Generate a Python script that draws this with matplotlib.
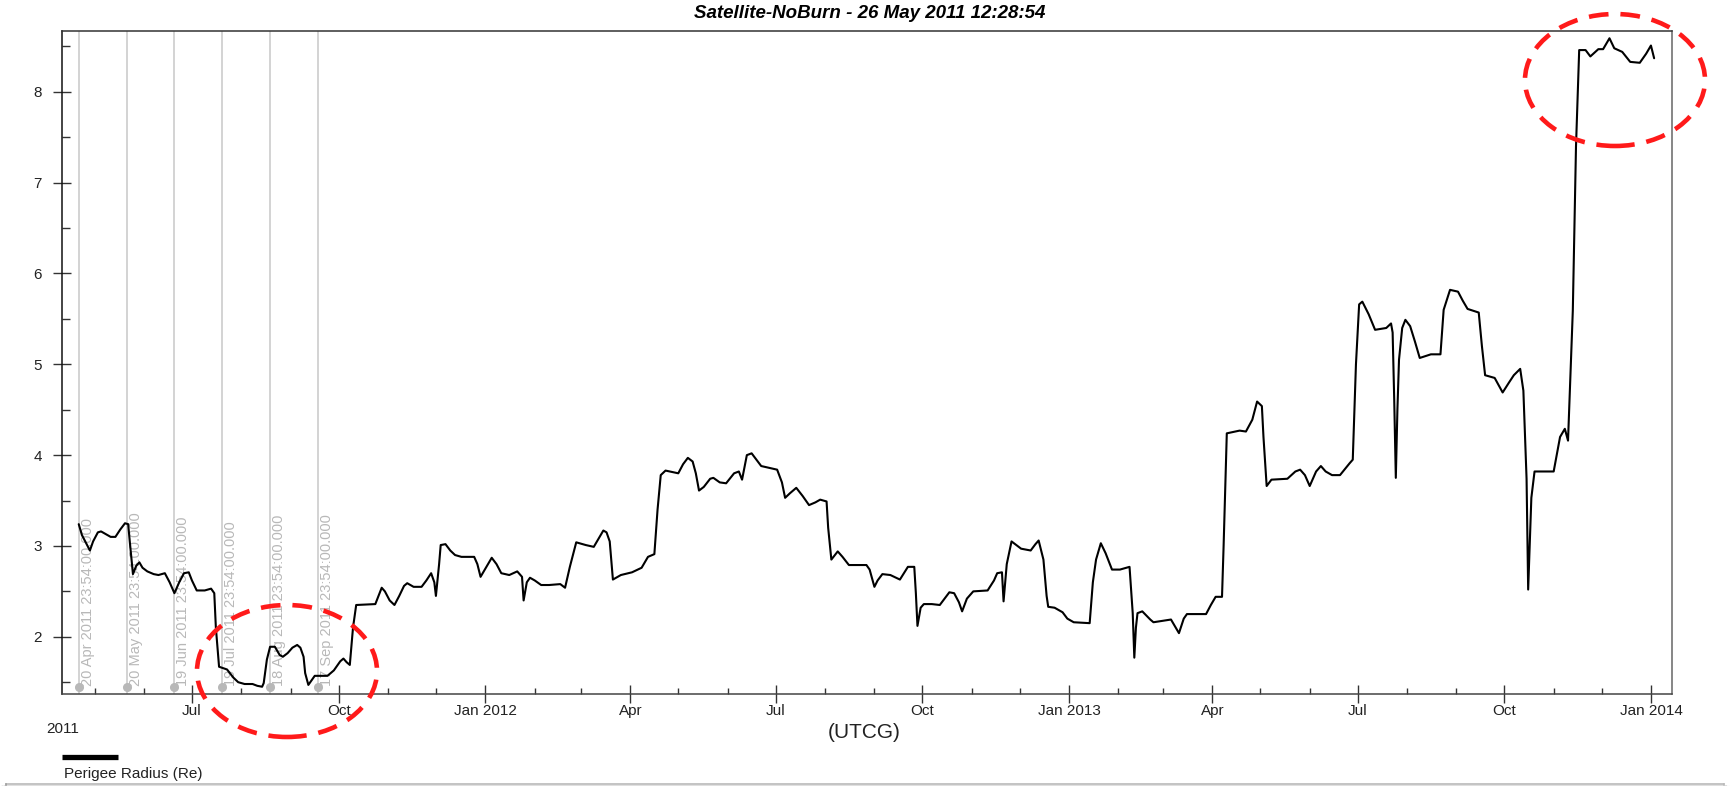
import matplotlib
matplotlib.use('Agg')
import pandas as pd
import matplotlib.pyplot as plt
import matplotlib.dates as mdates
from matplotlib.lines import Line2D
from matplotlib.patches import Ellipse
from matplotlib.ticker import MultipleLocator, FuncFormatter
from matplotlib.transforms import blended_transform_factory, offset_copy

plt.rcParams['font.family'] = ['Liberation Sans', 'DejaVu Sans']

W, H = 1736, 786

title = 'Satellite-NoBurn - 26 May 2011 12:28:54'
series_name = 'Perigee Radius (Re)'

# perigee radius (Re)
dates = [
    '2011-04-21', '2011-04-23', '2011-04-28', '2011-04-30', '2011-05-03', '2011-05-05',
    '2011-05-08', '2011-05-11', '2011-05-14', '2011-05-17', '2011-05-20', '2011-05-22',
    '2011-05-23', '2011-05-25', '2011-05-27', '2011-05-29', '2011-05-31', '2011-06-03',
    '2011-06-07', '2011-06-10', '2011-06-14', '2011-06-17', '2011-06-20', '2011-06-23',
    '2011-06-26', '2011-06-29', '2011-07-01', '2011-07-04', '2011-07-09', '2011-07-13',
    '2011-07-15', '2011-07-16', '2011-07-18', '2011-07-23', '2011-07-27', '2011-07-30',
    '2011-08-03', '2011-08-08', '2011-08-11', '2011-08-14', '2011-08-15', '2011-08-17',
    '2011-08-19', '2011-08-22', '2011-08-25', '2011-08-27', '2011-08-30', '2011-09-02',
    '2011-09-05', '2011-09-07', '2011-09-09', '2011-09-10', '2011-09-12', '2011-09-14',
    '2011-09-16', '2011-09-24', '2011-09-28', '2011-10-02', '2011-10-04', '2011-10-06',
    '2011-10-08', '2011-10-10', '2011-10-12', '2011-10-24', '2011-10-26', '2011-10-28',
    '2011-10-30', '2011-11-02', '2011-11-05', '2011-11-08', '2011-11-11', '2011-11-13',
    '2011-11-17', '2011-11-22', '2011-11-25', '2011-11-28', '2011-11-30', '2011-12-01',
    '2011-12-03', '2011-12-04', '2011-12-07', '2011-12-10', '2011-12-13', '2011-12-17',
    '2011-12-21', '2011-12-25', '2011-12-27', '2011-12-29', '2012-01-01', '2012-01-05',
    '2012-01-08', '2012-01-11', '2012-01-16', '2012-01-21', '2012-01-24', '2012-01-25',
    '2012-01-27', '2012-01-29', '2012-02-01', '2012-02-05', '2012-02-10', '2012-02-17',
    '2012-02-20', '2012-02-23', '2012-02-27', '2012-03-04', '2012-03-09', '2012-03-12',
    '2012-03-15', '2012-03-17', '2012-03-19', '2012-03-21', '2012-03-26', '2012-04-02',
    '2012-04-08', '2012-04-12', '2012-04-16', '2012-04-18', '2012-04-20', '2012-04-23',
    '2012-05-01', '2012-05-04', '2012-05-07', '2012-05-10', '2012-05-12', '2012-05-14',
    '2012-05-17', '2012-05-21', '2012-05-23', '2012-05-27', '2012-05-31', '2012-06-05',
    '2012-06-08', '2012-06-10', '2012-06-13', '2012-06-16', '2012-06-19', '2012-06-22',
    '2012-06-27', '2012-07-02', '2012-07-05', '2012-07-07', '2012-07-10', '2012-07-14',
    '2012-07-18', '2012-07-22', '2012-07-26', '2012-07-29', '2012-08-02', '2012-08-03',
    '2012-08-05', '2012-08-09', '2012-08-12', '2012-08-16', '2012-08-27', '2012-08-29',
    '2012-09-01', '2012-09-03', '2012-09-06', '2012-09-11', '2012-09-17', '2012-09-22',
    '2012-09-26', '2012-09-27', '2012-09-28', '2012-09-30', '2012-10-02', '2012-10-07',
    '2012-10-12', '2012-10-18', '2012-10-21', '2012-10-24', '2012-10-26', '2012-10-29',
    '2012-11-02', '2012-11-11', '2012-11-15', '2012-11-17', '2012-11-20', '2012-11-21',
    '2012-11-23', '2012-11-26', '2012-12-02', '2012-12-08', '2012-12-11', '2012-12-13',
    '2012-12-16', '2012-12-18', '2012-12-19', '2012-12-23', '2012-12-28', '2012-12-31',
    '2013-01-04', '2013-01-14', '2013-01-16', '2013-01-18', '2013-01-21', '2013-01-24',
    '2013-01-28', '2013-02-02', '2013-02-06', '2013-02-08', '2013-02-10', '2013-02-11',
    '2013-02-12', '2013-02-13', '2013-02-16', '2013-02-21', '2013-02-23', '2013-03-06',
    '2013-03-11', '2013-03-14', '2013-03-16', '2013-03-28', '2013-03-31', '2013-04-03',
    '2013-04-07', '2013-04-08', '2013-04-10', '2013-04-18', '2013-04-22', '2013-04-26',
    '2013-04-29', '2013-05-02', '2013-05-03', '2013-05-05', '2013-05-08', '2013-05-18',
    '2013-05-23', '2013-05-26', '2013-05-29', '2013-06-01', '2013-06-05', '2013-06-08',
    '2013-06-11', '2013-06-15', '2013-06-20', '2013-06-26', '2013-06-28', '2013-06-30',
    '2013-07-02', '2013-07-04', '2013-07-08', '2013-07-12', '2013-07-19', '2013-07-22',
    '2013-07-23', '2013-07-24', '2013-07-25', '2013-07-26', '2013-07-27', '2013-07-29',
    '2013-07-31', '2013-08-03', '2013-08-06', '2013-08-09', '2013-08-16', '2013-08-22',
    '2013-08-24', '2013-08-28', '2013-09-02', '2013-09-05', '2013-09-08', '2013-09-15',
    '2013-09-17', '2013-09-19', '2013-09-25', '2013-09-30', '2013-10-04', '2013-10-07',
    '2013-10-11', '2013-10-13', '2013-10-15', '2013-10-16', '2013-10-18', '2013-10-20',
    '2013-11-01', '2013-11-05', '2013-11-08', '2013-11-10', '2013-11-13', '2013-11-15',
    '2013-11-17', '2013-11-21', '2013-11-24', '2013-11-29', '2013-12-02', '2013-12-06',
    '2013-12-09', '2013-12-14', '2013-12-19', '2013-12-25', '2013-12-29', '2014-01-01',
    '2014-01-03',
]
radius = [
    3.24, 3.12, 2.95, 3.05, 3.15, 3.16,
    3.13, 3.10, 3.10, 3.18, 3.25, 3.24,
    3.05, 2.69, 2.78, 2.82, 2.76, 2.72,
    2.69, 2.68, 2.70, 2.60, 2.48, 2.60,
    2.70, 2.71, 2.62, 2.51, 2.51, 2.53,
    2.48, 2.10, 1.67, 1.64, 1.55, 1.50,
    1.48, 1.48, 1.46, 1.45, 1.49, 1.75,
    1.89, 1.89, 1.80, 1.78, 1.82, 1.88,
    1.91, 1.88, 1.78, 1.60, 1.47, 1.52,
    1.57, 1.57, 1.63, 1.73, 1.76, 1.72,
    1.69, 2.10, 2.35, 2.36, 2.45, 2.54,
    2.50, 2.40, 2.35, 2.45, 2.56, 2.59,
    2.55, 2.55, 2.62, 2.70, 2.60, 2.45,
    2.80, 3.01, 3.02, 2.95, 2.90, 2.88,
    2.88, 2.88, 2.80, 2.66, 2.75, 2.87,
    2.80, 2.70, 2.68, 2.72, 2.66, 2.40,
    2.60, 2.65, 2.62, 2.57, 2.57, 2.58,
    2.54, 2.77, 3.04, 3.01, 2.99, 3.08,
    3.17, 3.15, 3.05, 2.63, 2.68, 2.71,
    2.76, 2.88, 2.91, 3.40, 3.78, 3.83,
    3.80, 3.90, 3.97, 3.93, 3.80, 3.61,
    3.65, 3.74, 3.75, 3.70, 3.69, 3.80,
    3.82, 3.73, 4.00, 4.02, 3.95, 3.88,
    3.86, 3.84, 3.70, 3.53, 3.58, 3.64,
    3.55, 3.45, 3.48, 3.51, 3.49, 3.20,
    2.85, 2.94, 2.88, 2.79, 2.79, 2.74,
    2.55, 2.62, 2.69, 2.68, 2.63, 2.77,
    2.77, 2.48, 2.12, 2.32, 2.36, 2.36,
    2.35, 2.49, 2.48, 2.38, 2.28, 2.42,
    2.50, 2.51, 2.62, 2.70, 2.71, 2.39,
    2.80, 3.05, 2.97, 2.95, 3.02, 3.06,
    2.85, 2.45, 2.33, 2.32, 2.27, 2.20,
    2.16, 2.15, 2.60, 2.85, 3.03, 2.92,
    2.74, 2.74, 2.76, 2.77, 2.26, 1.77,
    2.10, 2.26, 2.28, 2.19, 2.16, 2.19,
    2.04, 2.20, 2.25, 2.25, 2.35, 2.44,
    2.44, 3.00, 4.24, 4.27, 4.26, 4.39,
    4.59, 4.54, 4.20, 3.66, 3.73, 3.74,
    3.82, 3.84, 3.78, 3.66, 3.82, 3.88,
    3.82, 3.78, 3.78, 3.91, 3.95, 5.00,
    5.66, 5.69, 5.55, 5.38, 5.40, 5.45,
    5.35, 4.61, 3.75, 4.50, 5.05, 5.40,
    5.49, 5.42, 5.25, 5.07, 5.11, 5.11,
    5.60, 5.82, 5.80, 5.70, 5.61, 5.57,
    5.20, 4.88, 4.85, 4.69, 4.80, 4.88,
    4.95, 4.71, 3.74, 2.52, 3.53, 3.82,
    3.82, 4.20, 4.29, 4.16, 5.59, 7.40,
    8.46, 8.46, 8.39, 8.47, 8.47, 8.59,
    8.48, 8.44, 8.33, 8.32, 8.42, 8.51,
    8.37,
]

event_times = ['2011-04-20 23:54', '2011-05-20 23:54', '2011-06-19 23:54',
               '2011-07-19 23:54', '2011-08-18 23:54', '2011-09-17 23:54']

x_start = '2011-04-10 12:00'
x_end = '2014-01-14 05:00'
y_min, y_max = 1.37, 8.67


def px(x, y):
    return x / W, 1 - y / H


fig = plt.figure(figsize=(W / 100, H / 100), dpi=100)
ax = fig.add_axes([62 / W, 1 - 694 / H, 1610 / W, 663 / H])

t = pd.to_datetime(dates)
ax.plot(t, radius, color='black', lw=1.5, zorder=3,
        solid_joinstyle='round', solid_capstyle='round')

# event markers
trans = blended_transform_factory(ax.transData, ax.transAxes)
text_trans = offset_copy(trans, fig=fig, x=2, y=0, units='dots')
for ev in pd.to_datetime(event_times):
    ax.axvline(ev, color='#c8c8c8', lw=1.1, zorder=1)
    ax.plot([ev], [0.011], marker='o', ms=5.5, color='#b8b8b8', transform=trans,
            clip_on=False, zorder=2)
    ax.text(ev, 0.012, ev.strftime('%d %b %Y %H:%M:%S.000'), transform=text_trans,
            rotation=90, ha='left', va='bottom', fontsize=10.5, color='#b8b8b8', zorder=1)

ax.set_xlim(pd.Timestamp(x_start), pd.Timestamp(x_end))
ax.set_ylim(y_min, y_max)

ax.xaxis.set_major_locator(mdates.MonthLocator(bymonth=[1, 4, 7, 10]))
ax.xaxis.set_minor_locator(mdates.MonthLocator())


def fmt_date(x, pos):
    d = mdates.num2date(x)
    return d.strftime('Jan %Y') if d.month == 1 else d.strftime('%b')


ax.xaxis.set_major_formatter(FuncFormatter(fmt_date))
ax.yaxis.set_major_locator(MultipleLocator(1))
ax.yaxis.set_minor_locator(MultipleLocator(0.5))

ax.tick_params(axis='both', which='major', direction='inout', length=13, width=1,
               labelsize=11, labelcolor='#222222', color='#333333')
ax.tick_params(axis='y', which='major', pad=8)
ax.tick_params(axis='x', which='major', pad=1)
ax.tick_params(axis='y', which='minor', direction='in', length=6, width=1, color='#333333')
ax.tick_params(axis='x', which='minor', direction='in', length=4.5, width=1, color='#333333')

for side in ['left', 'bottom', 'top', 'right']:
    ax.spines[side].set_linewidth(1.1)
ax.spines['left'].set_color('#111111')
ax.spines['bottom'].set_color('#444444')
ax.spines['top'].set_color('#333333')
ax.spines['right'].set_color('#666666')

# texts
fig.text(*px(870, 13), title, ha='center', va='center', fontsize=13.5,
         fontweight='bold', fontstyle='italic')
fig.text(*px(864, 733), '(UTCG)', ha='center', va='center', fontsize=15, color='#222222')
fig.text(*px(63, 729), '2011', ha='center', va='center', fontsize=11, color='#222222')

# legend
fig.add_artist(Line2D([62 / W, 118 / W], [1 - 757 / H] * 2, color='black', lw=3.8,
                      solid_capstyle='butt'))
fig.text(*px(64, 774), series_name, ha='left', va='center', fontsize=11, color='#222222')

# window frame
for off, a in [(0, 0.55), (1.5, 0.3), (3, 0.15), (4.5, 0.07)]:
    fig.add_artist(Line2D([(6 - off) / W] * 2, [0, 1 - (784 + off) / H],
                          color='#808080', lw=1.2, alpha=a))
    fig.add_artist(Line2D([(6 - off) / W, (1724 + off) / W], [1 - (784 + off) / H] * 2,
                          color='#808080', lw=1.2, alpha=a))
    fig.add_artist(Line2D([(1724 + off) / W] * 2, [0, 1 - (784 + off) / H],
                          color='#a0a0a0', lw=1.2, alpha=a * 0.6))

# red dashed highlight ellipses
for cx, cy in [(287, 671), (1615, 80)]:
    fig.add_artist(Ellipse(px(cx, cy), 180 / W, 132 / H, fill=False, edgecolor='#ff1a1a',
                           lw=3.3, linestyle=(0, (4.3, 2.6)), zorder=10))

fig.savefig('out.png', dpi=100)
